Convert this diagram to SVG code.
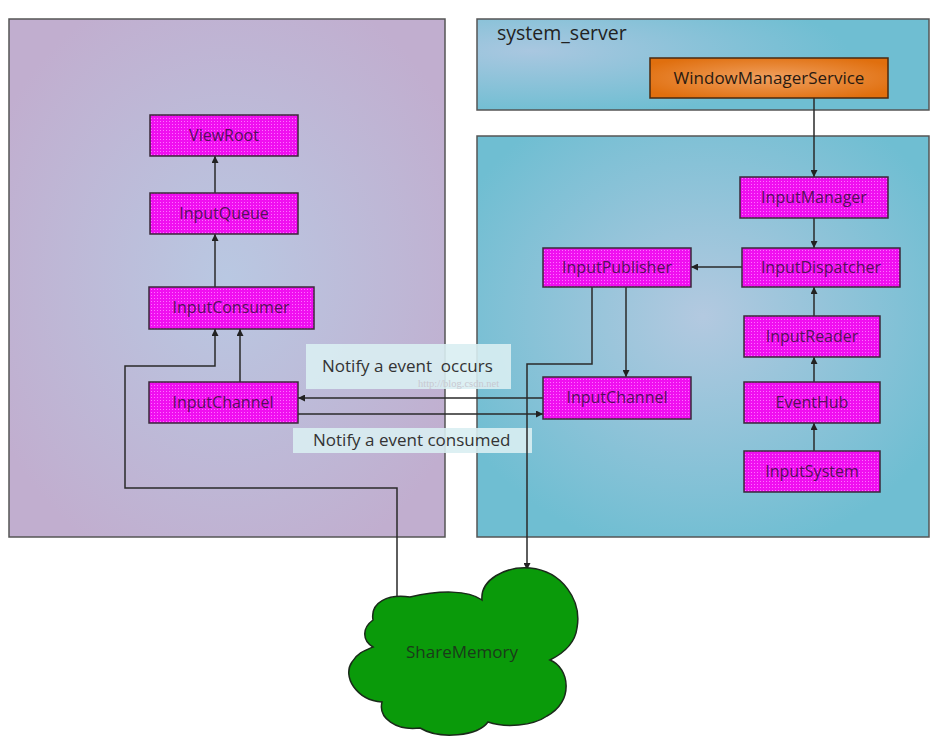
<svg xmlns="http://www.w3.org/2000/svg" width="941" height="736" viewBox="0 0 941 736">
<defs>
<radialGradient id="gLeft" cx="0.5" cy="0.5" r="0.6">
<stop offset="0" stop-color="#b9c8e2"/><stop offset="1" stop-color="#c1aecf"/>
</radialGradient>
<radialGradient id="gRight" cx="0.5" cy="0.45" r="0.6">
<stop offset="0" stop-color="#b3c9e0"/><stop offset="1" stop-color="#6fbed2"/>
</radialGradient>
<radialGradient id="gTop" cx="0.12" cy="0.35" r="0.7">
<stop offset="0" stop-color="#a9c7e0"/><stop offset="1" stop-color="#6fbed2"/>
</radialGradient>
<radialGradient id="gOrange" cx="0.5" cy="0.5" r="0.6">
<stop offset="0" stop-color="#f0a060"/><stop offset="1" stop-color="#e06f0e"/>
</radialGradient>
<pattern id="dots" width="3" height="3" patternUnits="userSpaceOnUse">
<rect width="3" height="3" fill="#f00ff0"/><rect x="1" y="1" width="1" height="1" fill="#ff70ff"/>
</pattern>
<marker id="arr" viewBox="0 0 10 10" refX="10" refY="5" markerWidth="7" markerHeight="7" orient="auto" markerUnits="userSpaceOnUse">
<path d="M0,0 L10,5 L0,10 z" fill="#222"/>
</marker>
<style>
.panel{stroke:#555;stroke-width:1.5}
.node{fill:url(#dots);stroke:#3a2a3a;stroke-width:1.5}
.lbl{font-family:"Open Sans","Noto Sans","DejaVu Sans",sans-serif;font-size:16px;fill:#55105a;text-anchor:middle}
.conn{fill:none;stroke:#2a2a2a;stroke-width:1.5}
.note{fill:#d9eef2;opacity:0.9}
.ntext{font-family:"Open Sans","Noto Sans","DejaVu Sans",sans-serif;font-size:17px;fill:#333}
</style>
</defs>
<rect width="941" height="736" fill="#ffffff"/>
<g id="panels">
<rect class="panel" x="9" y="19" width="436" height="518" fill="url(#gLeft)"/>
<rect class="panel" x="477" y="19" width="452" height="91" fill="url(#gTop)"/>
<rect class="panel" x="477" y="136" width="452" height="401" fill="url(#gRight)"/>
<text x="497" y="40" font-family="'Open Sans','Noto Sans',sans-serif" font-size="19.5" fill="#222">system_server</text>
</g>
<g id="labels">
<rect class="note" x="306" y="344" width="205" height="45"/>
<text class="ntext" x="322" y="372" xml:space="preserve">Notify a event  occurs</text>
<rect class="note" x="293" y="428" width="239" height="25"/>
<text class="ntext" x="313" y="446">Notify a event consumed</text>
<text x="418" y="387" font-family="'Liberation Serif',serif" font-size="10.5" fill="#c8c8d0">http://blog.csdn.net</text>
</g>
<g id="connectors">
<line class="conn" x1="814" y1="98" x2="814" y2="177" marker-end="url(#arr)"/>
<line class="conn" x1="814" y1="218" x2="814" y2="248" marker-end="url(#arr)"/>
<line class="conn" x1="742" y1="267" x2="691" y2="267" marker-end="url(#arr)"/>
<line class="conn" x1="814" y1="316" x2="814" y2="287" marker-end="url(#arr)"/>
<line class="conn" x1="814" y1="382" x2="814" y2="357" marker-end="url(#arr)"/>
<line class="conn" x1="814" y1="451" x2="814" y2="423" marker-end="url(#arr)"/>
<line class="conn" x1="626" y1="287" x2="626" y2="377" marker-end="url(#arr)"/>
<polyline class="conn" points="592,287 592,364 527,364 527,570" marker-end="url(#arr)"/>
<line class="conn" x1="543" y1="398" x2="298" y2="398" marker-end="url(#arr)"/>
<line class="conn" x1="298" y1="414" x2="543" y2="414" marker-end="url(#arr)"/>
<line class="conn" x1="240" y1="382" x2="240" y2="329" marker-end="url(#arr)"/>
<polyline class="conn" points="397,597 397,488 125,488 125,366 215,366 215,329" marker-end="url(#arr)"/>
<line class="conn" x1="215" y1="287" x2="215" y2="234" marker-end="url(#arr)"/>
<line class="conn" x1="215" y1="193" x2="215" y2="156" marker-end="url(#arr)"/>
</g>
<g id="WindowManagerService">
<rect x="650" y="58" width="238" height="40" fill="url(#gOrange)" stroke="#4a2a10" stroke-width="1.5"/>
<text class="lbl" x="769" y="84" style="fill:#2a1a10;font-size:17px">WindowManagerService</text>
</g>
<g id="InputManager"><rect class="node" x="740" y="177" width="148" height="41"/><text class="lbl" x="814" y="203">InputManager</text></g>
<g id="InputDispatcher"><rect class="node" x="742" y="248" width="158" height="39"/><text class="lbl" x="821" y="273">InputDispatcher</text></g>
<g id="InputPublisher"><rect class="node" x="543" y="248" width="148" height="39"/><text class="lbl" x="617" y="273">InputPublisher</text></g>
<g id="InputReader"><rect class="node" x="744" y="316" width="136" height="41"/><text class="lbl" x="812" y="342">InputReader</text></g>
<g id="EventHub"><rect class="node" x="744" y="382" width="136" height="41"/><text class="lbl" x="812" y="408">EventHub</text></g>
<g id="InputSystem"><rect class="node" x="744" y="451" width="136" height="41"/><text class="lbl" x="812" y="477">InputSystem</text></g>
<g id="InputChannelServer"><rect class="node" x="543" y="377" width="148" height="42"/><text class="lbl" x="617" y="403">InputChannel</text></g>
<g id="ViewRoot"><rect class="node" x="150" y="115" width="148" height="41"/><text class="lbl" x="224" y="141">ViewRoot</text></g>
<g id="InputQueue"><rect class="node" x="150" y="193" width="148" height="41"/><text class="lbl" x="224" y="219">InputQueue</text></g>
<g id="InputConsumer"><rect class="node" x="149" y="287" width="165" height="42"/><text class="lbl" x="231" y="313">InputConsumer</text></g>
<g id="InputChannelClient"><rect class="node" x="149" y="382" width="149" height="41"/><text class="lbl" x="223" y="408">InputChannel</text></g>
<g id="ShareMemory">
<path d="M373,620 C370,602 388,594 410,597 C440,590 468,590 482,600 C480,580 505,566 530,568 C562,571 582,600 577,628 C575,644 562,654 550,660 C570,668 574,702 547,716 C533,726 505,728 488,722 C478,736 440,740 420,728 C396,731 378,718 382,702 C356,700 342,676 352,662 C357,653 366,650 373,647 C362,640 362,628 373,620 Z" fill="#0a9a0a" stroke="#1a2a1a" stroke-width="1.5"/>
<text x="462" y="658" font-family="'Open Sans','Noto Sans',sans-serif" font-size="17" fill="#1a3a1a" text-anchor="middle">ShareMemory</text>
</g>
</svg>
